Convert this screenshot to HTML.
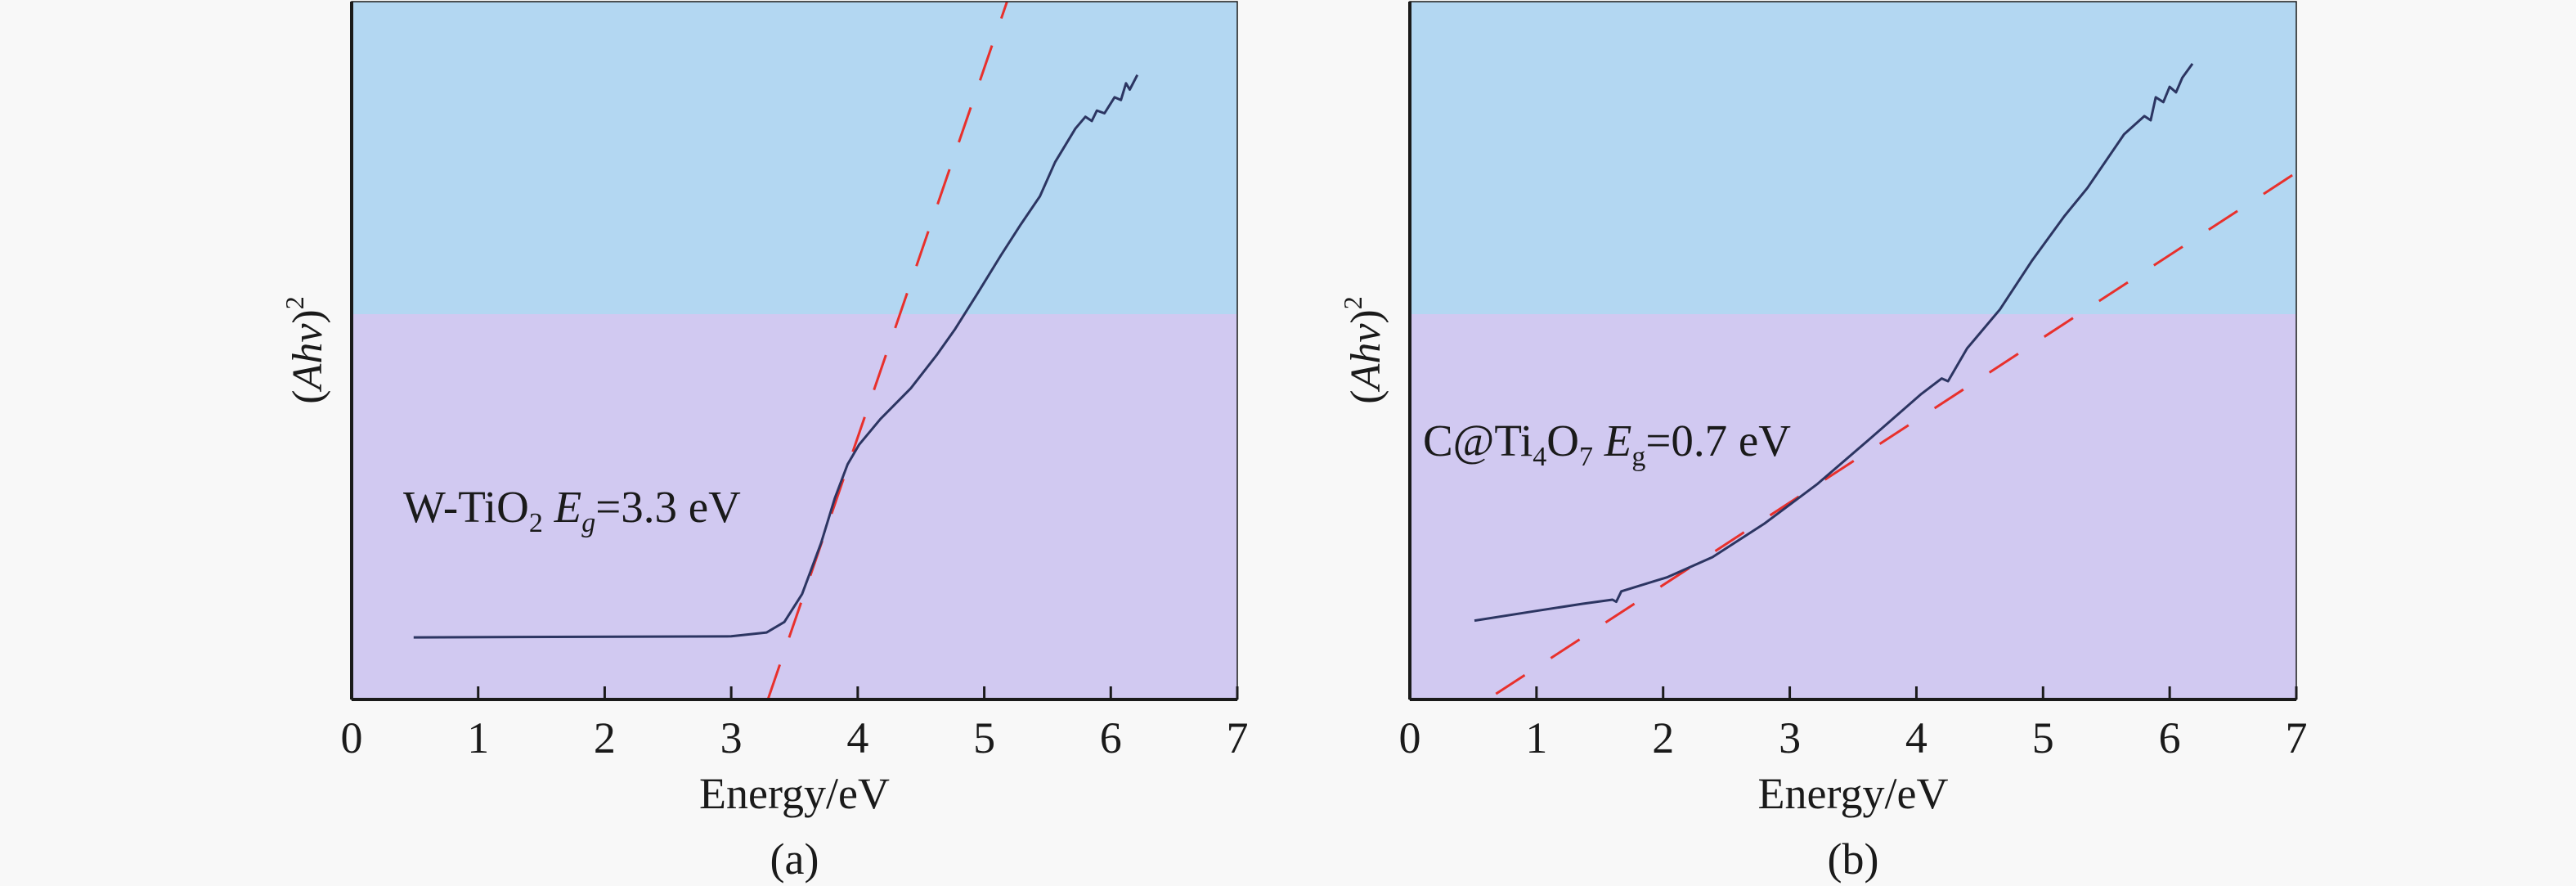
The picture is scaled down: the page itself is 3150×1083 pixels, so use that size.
<!DOCTYPE html>
<html><head><meta charset="utf-8"><style>
html,body{margin:0;padding:0;background:#f8f8f8;}
svg{display:block;font-family:"Liberation Serif",serif;}
</style></head><body>
<svg id="chart" width="3150" height="1083" viewBox="0 0 3150 1083" xmlns="http://www.w3.org/2000/svg"></svg>
<script>
const xTicks=[0,1,2,3,4,5,6,7];
const curveA_E=[0.49,3.0,3.28,3.42,3.56,3.71,3.82,3.92,4.01,4.18,4.42,4.63,4.77,4.94,5.13,5.29,5.44,5.56,5.72,5.80,5.85,5.89,5.95,6.03,6.08,6.12,6.15,6.21];
const curveA_V=[8.9,9.05,9.6,11.1,15.1,22.4,28.9,33.7,36.5,40.2,44.6,49.5,53.1,58.0,63.6,68.1,72.1,77.0,81.8,83.5,82.9,84.4,84.0,86.3,85.9,88.3,87.4,89.5];
const tangentA_E=[3.29,5.18];
const tangentA_V=[0,100];
const curveB_E=[0.51,1.0,1.36,1.6,1.63,1.67,2.03,2.39,2.8,3.22,3.63,4.04,4.2,4.25,4.4,4.66,4.91,5.17,5.35,5.64,5.8,5.85,5.89,5.95,6.0,6.05,6.1,6.18];
const curveB_V=[11.3,12.7,13.7,14.3,14.0,15.5,17.5,20.4,25.2,30.9,37.3,43.8,46.0,45.6,50.3,55.9,62.8,69.3,73.3,81.0,83.6,83.0,86.3,85.6,87.8,87.0,89.1,91.1];
const tangentB_E=[0.68,7.0];
const tangentB_V=[0.8,75.5];

const NS="http://www.w3.org/2000/svg";
const svg=document.getElementById('chart');
function mk(tag,attrs,parent){const e=document.createElementNS(NS,tag);for(const k in attrs)e.setAttribute(k,attrs[k]);(parent||svg).appendChild(e);return e;}

function panel(cfg){
  const g=mk('g',{});
  
  
  const L=cfg.left,R=cfg.right,T=2,B=855,MID=384;
  const xs=E=>L+(R-L)*E/7;
  const ys=v=>B-(B-T)*v/100;
  const bgTop=mk('rect',{x:L,y:T,width:R-L,height:MID-T,fill:'#b3d7f2'},g);
  
  
  const bgBot=mk('rect',{x:L,y:MID,width:R-L,height:B-MID,fill:'#d1c9f1'},g);
  
  
  // tangent
  const tl=mk('line',{x1:xs(cfg.tE[0]),y1:ys(cfg.tV[0]),x2:xs(cfg.tE[1]),y2:ys(cfg.tV[1]),stroke:'#e8302c','stroke-width':3,'stroke-dasharray':cfg.dash},g);
  
  
  // curve
  let d='';
  cfg.cE.forEach((E,i)=>{d+=(i?'L':'M')+xs(E).toFixed(1)+','+ys(cfg.cV[i]).toFixed(1);});
  const p=mk('path',{d:d,fill:'none',stroke:'#2c3562','stroke-width':3,'stroke-linejoin':'round'},g);
  
  
  // frame
  const fr=mk('rect',{x:L,y:T,width:R-L,height:B-T,fill:'none',stroke:'#1a1a1a','stroke-width':1.5},g);
  
  
  const ax=mk('line',{x1:L,y1:B,x2:R,y2:B,stroke:'#1a1a1a','stroke-width':4},g);
  
  
  const ay=mk('line',{x1:L,y1:T,x2:L,y2:B,stroke:'#1a1a1a','stroke-width':4},g);
  
  
  xTicks.forEach(t=>{
    const tk=mk('line',{x1:xs(t),y1:B,x2:xs(t),y2:B-16,stroke:'#1a1a1a','stroke-width':3},g);
    
    
    const tx=mk('text',{x:xs(t),y:920,'font-size':54,'text-anchor':'middle',fill:'#1a1a1a'},g);
    tx.textContent=t;
    
    
  });
  const xt=mk('text',{x:(L+R)/2,y:988,'font-size':54,'text-anchor':'middle',fill:'#1a1a1a'},g);
  xt.textContent='Energy/eV';
  
  
  const cap=mk('text',{x:(L+R)/2,y:1068,'font-size':54,'text-anchor':'middle',fill:'#1a1a1a'},g);
  cap.textContent=cfg.caption;
  
  
  const yt=mk('text',{x:0,y:0,'font-size':52,'text-anchor':'middle',fill:'#1a1a1a',transform:'translate('+(L-37)+',428) rotate(-90)'},g);
  yt.innerHTML='(<tspan font-style="italic">Ahv</tspan>)<tspan font-size="32" dy="-22">2</tspan>';
  
  
  const lb=mk('text',{x:cfg.lx,y:cfg.ly,'font-size':55,fill:'#1a1a1a'},g);
  lb.innerHTML=cfg.label;
  
  
}
panel({name:'panel-a',left:430,right:1513,cE:curveA_E,cV:curveA_V,tE:tangentA_E,tV:tangentA_V,dash:'45 35',caption:'(a)',lx:493,ly:638,
  label:'W-TiO<tspan font-size="34" dy="12">2</tspan><tspan dy="-12"> </tspan><tspan font-style="italic">E</tspan><tspan font-style="italic" font-size="34" dy="12">g</tspan><tspan dy="-12">=3.3 eV</tspan>'});
panel({name:'panel-b',left:1724,right:2808,cE:curveB_E,cV:curveB_V,tE:tangentB_E,tV:tangentB_V,dash:'42 38',caption:'(b)',lx:1740,ly:557,
  label:'C@Ti<tspan font-size="34" dy="12">4</tspan><tspan dy="-12">O</tspan><tspan font-size="34" dy="12">7</tspan><tspan dy="-12"> </tspan><tspan font-style="italic">E</tspan><tspan font-size="34" dy="12">g</tspan><tspan dy="-12">=0.7 eV</tspan>'});
</script>
</body></html>
